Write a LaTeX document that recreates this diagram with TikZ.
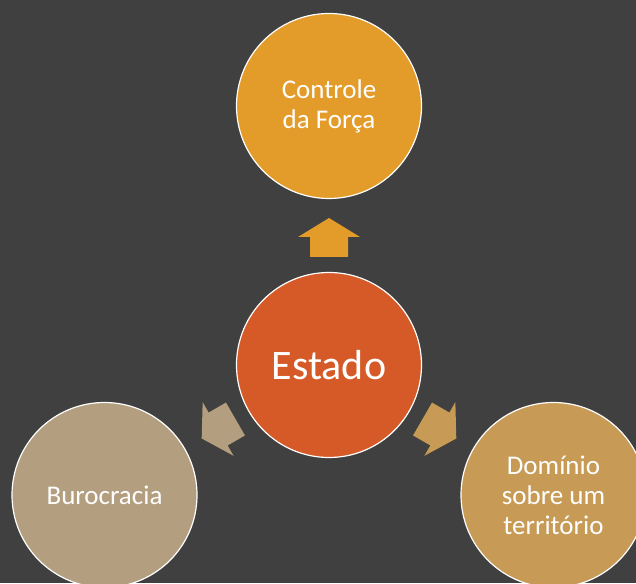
\documentclass[tikz,border=0pt]{standalone}
\usepackage{fontspec}
\setmainfont{Carlito}
\usepackage{xcolor}
\usepackage{tikz}
\definecolor{bg}{HTML}{404040}
\definecolor{force}{HTML}{E39C29}
\definecolor{state}{HTML}{D55A27}
\definecolor{bureau}{HTML}{B39E7F}
\definecolor{land}{HTML}{C79A55}
\tikzset{
  disc/.style={circle, draw=white, line width=1.2pt, minimum size=185pt, inner sep=0pt,
    text=white, align=center, font=\fontsize{27}{30}\selectfont},
  hub/.style={disc, fill=state, font=\fontsize{42}{50}\selectfont},
}
\begin{document}
\begin{tikzpicture}[x=1pt, y=1pt]
  \clip (0,0) rectangle (636,583);
  \fill[bg] (0,0) rectangle (636,583);

  \node[hub] (estado) at (329,218) {Estado};
  \node[disc, fill=force]  (forca) at (329,477) {Controle\\da Força};
  \node[disc, fill=bureau] (buro)  at (104.5,88) {Burocracia};
  \node[disc, fill=land]   (terra) at (553.5,88) {Domínio\\sobre um\\território};

  % block arrows pointing out of the hub
  \begin{scope}[shift={(estado.center)}, rotate=90]
    \fill[force] (108,-19) -- (128,-19) -- (128,-31) -- (147,0) -- (128,31) -- (128,19) -- (108,19) -- cycle;
  \end{scope}
  \begin{scope}[shift={(estado.center)}, rotate=210]
    \fill[bureau] (108,-19) -- (128,-19) -- (128,-31) -- (147,0) -- (128,31) -- (128,19) -- (108,19) -- cycle;
  \end{scope}
  \begin{scope}[shift={(estado.center)}, rotate=330]
    \fill[land] (108,-19) -- (128,-19) -- (128,-31) -- (147,0) -- (128,31) -- (128,19) -- (108,19) -- cycle;
  \end{scope}
\end{tikzpicture}
\end{document}
